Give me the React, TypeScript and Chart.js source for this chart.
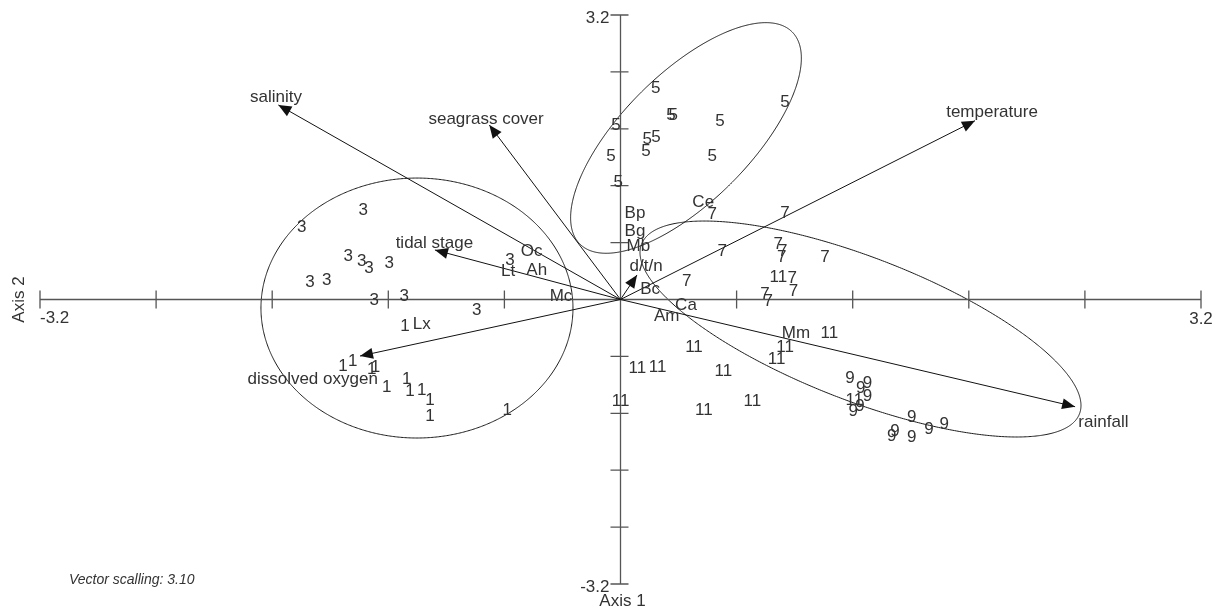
import React, { useEffect, useRef } from "react";
import { Chart, registerables } from "chart.js";

Chart.register(...registerables);

// ---- axes ----
const axisMin = -3.2;
const axisMax = 3.2;
const tickValues = [-3.2, -2.56, -1.92, -1.28, -0.64, 0.64, 1.28, 1.92, 2.56, 3.2];
const axisEndLabels = ["-3.2", "3.2"];
const axisTitles = ["Axis 1", "Axis 2"];
const footnote = "Vector scalling: 3.10";

// ---- site scores (label = site group) ----
const siteGroups = ["1", "3", "5", "7", "9", "11"];
const site1 = [
  [-1.53, -0.737], [-1.476, -0.688], [-1.372, -0.774], [-1.35, -0.748], [-1.289, -0.973], [-1.179, -0.886],
  [-1.16, -1.018], [-1.096, -1.01], [-1.05, -1.123], [-1.05, -1.299], [-0.624, -1.235], [-1.188, -0.287],
];
const site3 = [
  [-1.418, 1.018], [-1.757, 0.827], [-1.501, 0.501], [-1.427, 0.444], [-1.386, 0.358], [-1.275, 0.414],
  [-0.609, 0.456], [-1.712, 0.2], [-1.62, 0.227], [-1.357, 0.002], [-1.192, 0.051], [-0.793, -0.107],
];
const site5 = [
  [0.194, 2.387], [0.907, 2.233], [0.278, 2.087], [0.291, 2.079], [0.549, 2.019], [-0.025, 1.971],
  [0.196, 1.839], [0.148, 1.813], [0.141, 1.674], [-0.052, 1.618], [0.506, 1.625], [-0.012, 1.325],
];
const site7 = [
  [0.506, 0.97], [0.907, 0.981], [0.561, 0.557], [0.87, 0.632], [0.894, 0.557], [0.889, 0.481],
  [1.127, 0.481], [0.947, 0.25], [0.365, 0.211], [0.953, 0.099], [0.797, 0.07], [0.815, -0.013],
];
const site9 = [
  [1.265, -0.875], [1.324, -0.988], [1.361, -0.936], [1.361, -1.074], [1.32, -1.187], [1.283, -1.243],
  [1.605, -1.318], [1.785, -1.393], [1.701, -1.449], [1.513, -1.468], [1.495, -1.524], [1.605, -1.543],
];
const site11 = [
  [0.87, 0.256], [1.151, -0.373], [0.907, -0.531], [0.861, -0.661], [0.405, -0.523], [0.093, -0.767],
  [0.205, -0.756], [0.567, -0.793], [0.001, -1.13], [0.727, -1.13], [0.46, -1.235], [1.289, -1.119],
];
const siteScores = [site1, site3, site5, site7, site9, site11];

// ---- species scores ----
const speciesNames = ["Ce", "Bp", "Bg", "Mb", "Bc", "Ca", "Am", "Mm", "Oc", "Lt", "Ah", "Mc", "Lx"];
const speciesScores = [
  [0.456, 1.1], [0.08, 0.981], [0.08, 0.774], [0.098, 0.613], [0.163, 0.126], [0.361, -0.051],
  [0.255, -0.174], [0.967, -0.373], [-0.49, 0.557], [-0.619, 0.332], [-0.462, 0.34], [-0.328, 0.051],
  [-1.096, -0.268],
];

// ---- environmental vectors ----
const vectorNames = ["salinity", "seagrass cover", "temperature", "tidal stage", "dissolved oxygen", "rainfall", "d/t/n"];
const vectorTips = [
  [-1.886, 2.188], [-0.723, 1.963], [1.954, 2.011], [-1.023, 0.557], [-1.436, -0.636], [2.506, -1.206], [0.091, 0.276],
];
const vectorLabelPos = [
  [-1.899, 2.289], [-0.741, 2.038], [2.048, 2.112], [-1.026, 0.643], [-1.697, -0.886], [2.662, -1.375], [0.141, 0.38],
];

// ---- group ellipses (centre + two conjugate half-axes, data units) ----
const ellipseCentres = [[-1.122, -0.096], [0.361, 1.817], [1.323, -0.332]];
const ellipseHalfAxisA = [[0.86, 0], [0.585, 1.193], [1.207, -0.753]];
const ellipseHalfAxisB = [[0, 1.462], [0.2495, -0.509], [-0.143, 0.953]];

const FONT_FAMILY = 'Arial, "Liberation Sans", sans-serif';
const TEXT_COLOR = "#333333";

const biplotPlugin = {
  id: "biplot",
  beforeDatasetsDraw(chart: any) {
    const { ctx } = chart;
    const xs = chart.scales.x;
    const ys = chart.scales.y;
    ctx.save();
    // ellipses
    ctx.strokeStyle = "#1a1a1a";
    ctx.lineWidth = 1;
    ellipseCentres.forEach((c, i) => {
      const a = ellipseHalfAxisA[i];
      const b = ellipseHalfAxisB[i];
      ctx.beginPath();
      for (let k = 0; k <= 720; k++) {
        const t = (k * Math.PI) / 360;
        const dx = c[0] + a[0] * Math.cos(t) + b[0] * Math.sin(t);
        const dy = c[1] + a[1] * Math.cos(t) + b[1] * Math.sin(t);
        const px = xs.getPixelForValue(dx);
        const py = ys.getPixelForValue(dy);
        if (k === 0) ctx.moveTo(px, py);
        else ctx.lineTo(px, py);
      }
      ctx.closePath();
      ctx.stroke();
    });
    // axes
    const x0 = xs.getPixelForValue(0);
    const y0 = ys.getPixelForValue(0);
    ctx.strokeStyle = "#555555";
    ctx.lineWidth = 1.3;
    ctx.beginPath();
    ctx.moveTo(xs.getPixelForValue(axisMin), y0);
    ctx.lineTo(xs.getPixelForValue(axisMax), y0);
    ctx.moveTo(x0, ys.getPixelForValue(axisMax));
    ctx.lineTo(x0, ys.getPixelForValue(axisMin));
    tickValues.forEach((v) => {
      const px = xs.getPixelForValue(v);
      ctx.moveTo(px, y0 - 9);
      ctx.lineTo(px, y0 + 9);
      const py = ys.getPixelForValue(v);
      ctx.moveTo(x0 - 10, py);
      ctx.lineTo(x0 + 8, py);
    });
    ctx.stroke();
    ctx.restore();
  },
  afterDatasetsDraw(chart: any) {
    const { ctx } = chart;
    const xs = chart.scales.x;
    const ys = chart.scales.y;
    ctx.save();
    // arrowheads
    chart.data.datasets.forEach((ds: any, i: number) => {
      if (!ds.isVector) return;
      const meta = chart.getDatasetMeta(i);
      const p0 = meta.data[0];
      const p1 = meta.data[1];
      const ang = Math.atan2(p1.y - p0.y, p1.x - p0.x);
      const L = 13;
      const W = 5.5;
      ctx.fillStyle = "#111111";
      ctx.beginPath();
      ctx.moveTo(p1.x, p1.y);
      ctx.lineTo(p1.x - L * Math.cos(ang) + W * Math.sin(ang), p1.y - L * Math.sin(ang) - W * Math.cos(ang));
      ctx.lineTo(p1.x - L * Math.cos(ang) - W * Math.sin(ang), p1.y - L * Math.sin(ang) + W * Math.cos(ang));
      ctx.closePath();
      ctx.fill();
    });
    // text markers
    ctx.font = `17px ${FONT_FAMILY}`;
    ctx.fillStyle = TEXT_COLOR;
    ctx.textAlign = "center";
    ctx.textBaseline = "middle";
    chart.data.datasets.forEach((ds: any, i: number) => {
      if (!ds.textLabels) return;
      const meta = chart.getDatasetMeta(i);
      meta.data.forEach((el: any, j: number) => {
        ctx.fillText(ds.textLabels[j], el.x, el.y + 1);
      });
    });
    // axis end labels
    const x0 = xs.getPixelForValue(0);
    const y0 = ys.getPixelForValue(0);
    ctx.textAlign = "right";
    ctx.fillText(axisEndLabels[1], x0 - 11, ys.getPixelForValue(axisMax) + 3);
    ctx.fillText(axisEndLabels[0], x0 - 11, ys.getPixelForValue(axisMin) + 3);
    ctx.textBaseline = "top";
    ctx.textAlign = "left";
    ctx.fillText(axisEndLabels[0], xs.getPixelForValue(axisMin), y0 + 10);
    ctx.textAlign = "center";
    ctx.fillText(axisEndLabels[1], xs.getPixelForValue(axisMax), y0 + 11);
    // axis titles
    ctx.fillText(axisTitles[0], x0 + 2, ys.getPixelForValue(axisMin) + 9);
    ctx.save();
    ctx.translate(19, y0);
    ctx.rotate(-Math.PI / 2);
    ctx.textBaseline = "middle";
    ctx.fillText(axisTitles[1], 0, 0);
    ctx.restore();
    // footnote
    ctx.font = `italic 14px ${FONT_FAMILY}`;
    ctx.textAlign = "left";
    ctx.textBaseline = "middle";
    ctx.fillText(footnote, 69, 580);
    ctx.restore();
  },
};

export default function App() {
  const ref = useRef<HTMLCanvasElement>(null);
  useEffect(() => {
    const canvas = ref.current;
    if (!canvas) return;
    const datasets: any[] = [];
    // vectors (lines from origin)
    vectorNames.forEach((name, i) => {
      datasets.push({
        label: name,
        isVector: true,
        data: [{ x: 0, y: 0 }, { x: vectorTips[i][0], y: vectorTips[i][1] }],
        showLine: true,
        borderColor: "#111111",
        borderWidth: 1,
        pointRadius: 0,
        clip: false,
      });
    });
    datasets.push({
      label: "vector labels",
      data: vectorLabelPos.map(([x, y]) => ({ x, y })),
      textLabels: vectorNames,
      pointRadius: 0,
      clip: false,
    });
    siteScores.forEach((pts, gi) => {
      datasets.push({
        label: "site " + siteGroups[gi],
        data: pts.map(([x, y]) => ({ x, y })),
        textLabels: pts.map(() => siteGroups[gi]),
        pointRadius: 0,
        clip: false,
      });
    });
    datasets.push({
      label: "species",
      data: speciesScores.map(([x, y]) => ({ x, y })),
      textLabels: speciesNames,
      pointRadius: 0,
      clip: false,
    });
    const chart = new Chart(canvas, {
      type: "scatter",
      data: { datasets },
      options: {
        responsive: false,
        animation: false,
        events: [],
        layout: { padding: { left: 40, right: 22, top: 15, bottom: 28 } },
        scales: {
          x: { type: "linear", min: axisMin, max: axisMax, display: false },
          y: { type: "linear", min: axisMin, max: axisMax, display: false },
        },
        plugins: { legend: { display: false }, tooltip: { enabled: false } },
      },
      plugins: [biplotPlugin],
    } as any);
    return () => chart.destroy();
  }, []);
  return (
    <div style={{ position: "absolute", left: 0, top: 0, width: 1223, height: 612, background: "#fff" }}>
      <canvas ref={ref} width={1223} height={612} style={{ display: "block", width: 1223, height: 612 }} />
    </div>
  );
}
